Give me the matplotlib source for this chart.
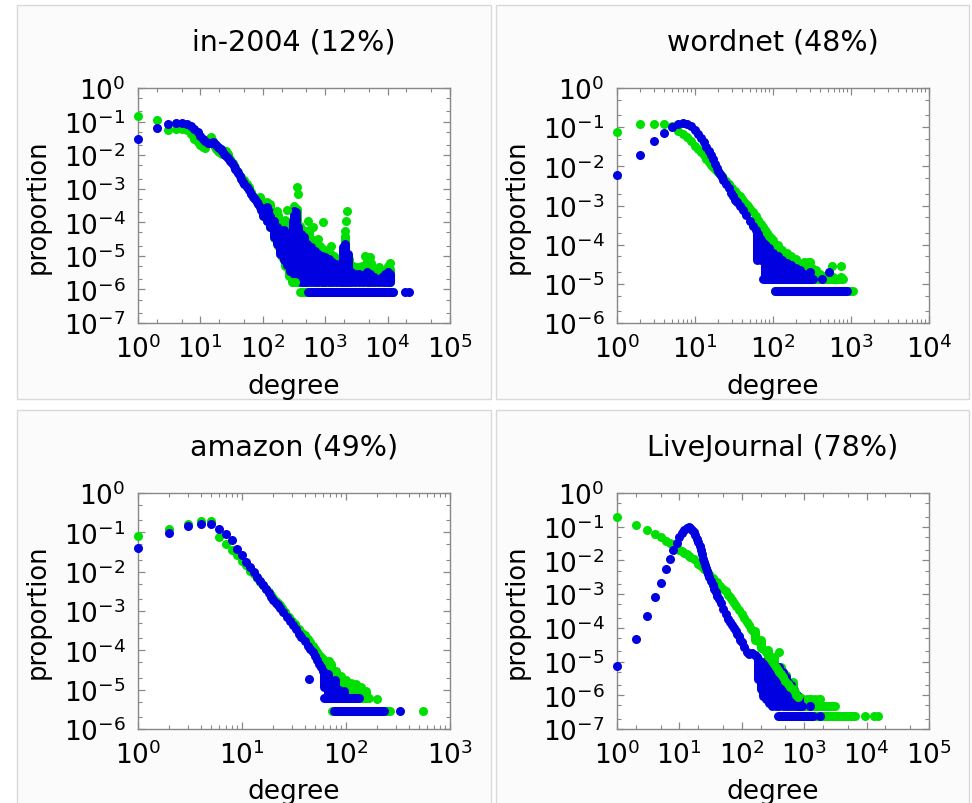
import matplotlib.pyplot as plt
from matplotlib.patches import Rectangle
from matplotlib.ticker import LogLocator, LogFormatterSciNotation, NullFormatter

plt.rcParams['axes.unicode_minus'] = False

GREEN = '#00e000'
BLUE = '#0000e0'
MS = 6.5  # marker diameter in points

titles = ['in-2004 (12%)', 'wordnet (48%)', 'amazon (49%)', 'LiveJournal (78%)']
x_limits = [(1, 1e5), (1, 1e4), (1, 1e3), (1, 1e5)]
y_limits = [(1e-7, 1), (1e-6, 1), (1e-6, 1), (1e-7, 1)]
x_minor = [(2, 5), (2, 3, 4, 5, 6, 7, 8, 9), (2, 3, 4, 5, 6, 7, 8, 9), (2, 5)]

# ---------------- in-2004 ----------------
# (degree, proportion) points
in2004_green = [(1, 0.15), (2, 0.11), (3, 0.058), (4, 0.062), (5, 0.06), (6, 0.055), (7, 0.042),
                (8, 0.031), (9, 0.024), (10, 0.02), (11, 0.017), (12, 0.016), (13, 0.024), (14, 0.033),
                (15, 0.034), (16, 0.026), (17, 0.018), (18, 0.015), (19, 0.0135), (20, 0.012),
                (22, 0.011), (24, 0.013), (26, 0.0135), (28, 0.011), (30, 0.0078), (33, 0.006),
                (36, 0.0045), (40, 0.0032), (45, 0.0023), (50, 0.0018), (55, 0.0014), (60, 0.0011),
                (65, 0.0008), (70, 0.0006), (75, 0.0005), (80, 0.00045), (85, 0.0005), (90, 0.00056),
                (355, 1.1e-3), (370, 7.2e-4), (170, 2.2e-4), (240, 2.3e-4), (530, 1.1e-4), (640, 7e-5),
                (920, 1.0e-4), (780, 3.2e-5), (1250, 2.0e-5), (2250, 2.2e-4), (2150, 1.1e-4),
                (2100, 5.6e-5), (4300, 1.0e-5), (5300, 9e-6), (7400, 4.6e-6), (10800, 6.3e-6),
                (300, 1.65e-6), (330, 1.65e-6)]
in2004_blue = [(1, 0.03), (2, 0.065), (3, 0.085), (4, 0.091), (5, 0.09), (6, 0.085), (7, 0.072),
               (8, 0.06), (9, 0.048), (10, 0.038), (11, 0.03), (12, 0.026), (13, 0.023), (14, 0.0225),
               (15, 0.023), (16, 0.024), (17, 0.022), (18, 0.02), (19, 0.018), (20, 0.016), (21, 0.0148),
               (22, 0.0135), (24, 0.011), (26, 0.0095), (28, 0.0083), (30, 0.0069), (32, 0.0058),
               (34, 0.0048), (36, 0.004), (38, 0.0034), (40, 0.0029), (43, 0.0024), (45, 0.002),
               (48, 0.0016), (50, 0.0014), (55, 0.0011), (60, 0.00089), (65, 0.0007), (70, 0.00056),
               (75, 0.00048), (80, 0.0004), (85, 0.00034), (90, 0.00028), (95, 0.00024),
               (19000, 8.3e-7), (22000, 8.3e-7)]
# dense clouds: (degree, low, high)
in2004_green_band = [(100, 1.6e-4, 4.0e-4), (115, 1.1e-4, 4.0e-4), (130, 7e-5, 3.5e-4), (150, 3.5e-5, 2.0e-4),
                     (175, 2e-5, 1.6e-4), (200, 9e-6, 1.0e-4), (230, 5e-6, 1.2e-4), (260, 2.5e-6, 1.0e-4),
                     (290, 1.65e-6, 8e-5), (320, 1.65e-6, 3e-4), (350, 1.65e-6, 2.5e-4), (390, 1.65e-6, 8e-5),
                     (440, 1.65e-6, 6e-5), (500, 1.65e-6, 5e-5), (560, 1.65e-6, 6e-5), (640, 1.65e-6, 3e-5),
                     (720, 1.65e-6, 2.5e-5), (820, 1.65e-6, 2e-5), (930, 1.65e-6, 1.6e-5),
                     (1050, 1.65e-6, 1.4e-5), (1200, 1.65e-6, 1.2e-5), (1400, 1.65e-6, 1.0e-5),
                     (1600, 1.65e-6, 8e-6), (1850, 1.65e-6, 7e-6), (2100, 1.65e-6, 4e-5),
                     (2400, 1.65e-6, 8e-6), (2800, 1.65e-6, 5e-6), (3300, 1.65e-6, 4.5e-6),
                     (3900, 1.65e-6, 5e-6), (4600, 1.65e-6, 7e-6), (5400, 1.65e-6, 6e-6),
                     (6300, 1.65e-6, 4e-6), (7400, 1.65e-6, 4e-6), (8700, 1.65e-6, 3.5e-6),
                     (10000, 1.65e-6, 5e-6), (11000, 1.65e-6, 4e-6)]
in2004_blue_band = [(100, 1.58e-4, 2.5e-4), (115, 1.13e-4, 2.8e-4), (130, 7.1e-5, 2.0e-4), (150, 3.6e-5, 1.13e-4),
                    (170, 2.28e-5, 7.1e-5), (190, 1.15e-5, 5.7e-5), (215, 7.3e-6, 5.7e-5), (240, 5.2e-6, 4.5e-5),
                    (270, 3.66e-6, 4.5e-5), (300, 3.27e-6, 1.13e-4), (320, 2.9e-6, 2.23e-4), (340, 2.6e-6, 2.0e-4),
                    (370, 2.3e-6, 7.1e-5), (410, 1.65e-6, 4.5e-5), (460, 1.65e-6, 3.6e-5), (520, 1.65e-6, 2.28e-5),
                    (600, 1.65e-6, 1.81e-5), (680, 1.65e-6, 1.44e-5), (780, 1.65e-6, 1.15e-5),
                    (880, 1.65e-6, 1.02e-5), (1000, 1.65e-6, 9.1e-6), (1150, 1.65e-6, 8.1e-6),
                    (1300, 1.65e-6, 6.5e-6), (1500, 1.65e-6, 5.8e-6), (1700, 1.65e-6, 4.6e-6),
                    (1950, 1.65e-6, 1.81e-5), (2100, 1.65e-6, 2.28e-5), (2300, 1.65e-6, 1.15e-5),
                    (2600, 1.65e-6, 3.27e-6), (3000, 1.65e-6, 2.9e-6), (3500, 1.65e-6, 2.9e-6),
                    (4000, 1.65e-6, 2.6e-6), (4600, 1.65e-6, 3.27e-6), (5200, 1.65e-6, 2.9e-6),
                    (6000, 1.65e-6, 2.3e-6), (7000, 1.65e-6, 2.07e-6), (8000, 1.65e-6, 2.3e-6),
                    (9000, 1.65e-6, 2.9e-6), (10000, 1.65e-6, 3.27e-6), (11000, 1.65e-6, 2.9e-6)]
# runs of single-count degrees: (proportion, first degree, last degree)
in2004_green_rows = [(8.3e-7, 400, 12300)]
in2004_blue_rows = [(8.3e-7, 525, 12300)]

# ---------------- wordnet ----------------
wordnet_green = [(1, 0.077), (2, 0.12), (3, 0.12), (4, 0.12), (5, 0.11), (6, 0.082), (7, 0.067), (8, 0.055),
                 (9, 0.044), (10, 0.034), (11, 0.028), (12, 0.023), (13, 0.019), (14, 0.0155), (15, 0.013),
                 (16, 0.011), (17, 0.0097), (18, 0.0086), (19, 0.0078), (20, 0.0071), (21, 0.0064),
                 (22, 0.0057), (23, 0.0051), (25, 0.0042), (27, 0.0035), (30, 0.0028), (33, 0.0023),
                 (35, 0.002), (38, 0.0017), (40, 0.00145), (43, 0.00125), (45, 0.0011), (48, 0.00095),
                 (50, 0.00083), (55, 0.00068), (60, 0.00053), (65, 0.00043), (70, 0.00034), (75, 0.00028),
                 (80, 0.00023), (85, 0.0002), (90, 0.00017), (95, 0.00015),
                 (300, 3.6e-5), (570, 2.8e-5), (750, 2.8e-5), (590, 1.5e-5), (750, 1.5e-5)]
wordnet_blue = [(1, 0.0059), (2, 0.02), (3, 0.044), (4, 0.071), (5, 0.103), (6, 0.117), (7, 0.126), (8, 0.12),
                (9, 0.104), (10, 0.085), (11, 0.067), (12, 0.053), (13, 0.041), (14, 0.032), (15, 0.025),
                (16, 0.019), (17, 0.015), (18, 0.0116), (19, 0.0093), (20, 0.0075), (21, 0.0063), (22, 0.0053),
                (23, 0.0046), (25, 0.0036), (27, 0.0028), (29, 0.0021), (31, 0.0017), (33, 0.0014),
                (35, 0.00122), (38, 0.00098), (41, 0.00078), (45, 0.00056), (50, 0.0004), (55, 0.0003),
                (60, 0.00023), (65, 0.00019), (300, 2.0e-5), (520, 2.0e-5), (420, 1.35e-5)]
wordnet_green_band = [(100, 1.35e-5, 1.3e-4), (115, 1.35e-5, 1.0e-4), (130, 1.35e-5, 7.5e-5), (150, 1.35e-5, 6e-5),
                      (170, 1.35e-5, 5e-5), (195, 1.35e-5, 4.2e-5), (220, 1.35e-5, 3.3e-5), (250, 1.35e-5, 3.6e-5),
                      (280, 1.35e-5, 3.6e-5), (320, 1.35e-5, 2.5e-5), (360, 1.35e-5, 2.2e-5), (400, 1.35e-5, 1.8e-5),
                      (450, 1.35e-5, 1.6e-5)]
wordnet_blue_band = [(62, 4e-5, 2.2e-4), (70, 4e-5, 1.5e-4), (78, 1.35e-5, 1.1e-4), (88, 1.35e-5, 8e-5),
                     (100, 1.35e-5, 6e-5), (115, 1.35e-5, 5e-5), (130, 1.35e-5, 4e-5), (150, 1.35e-5, 3.5e-5),
                     (170, 1.35e-5, 3e-5), (195, 1.35e-5, 2.5e-5), (220, 1.35e-5, 2.2e-5), (250, 1.35e-5, 1.8e-5),
                     (280, 1.35e-5, 1.6e-5)]
wordnet_green_rows = [(6.6e-6, 107, 1060), (1.35e-5, 92, 800)]
wordnet_blue_rows = [(6.6e-6, 107, 890), (1.35e-5, 75, 330)]

# ---------------- amazon ----------------
amazon_green = [(1, 0.079), (2, 0.119), (3, 0.16), (4, 0.19), (5, 0.19), (6, 0.076), (7, 0.051), (8, 0.036),
                (9, 0.026), (10, 0.019), (11, 0.0145), (12, 0.0107), (13, 0.0087), (14, 0.007), (15, 0.0056),
                (16, 0.0045), (17, 0.0037), (18, 0.003), (19, 0.0025), (20, 0.0021), (21, 0.0018), (22, 0.0016),
                (23, 0.0014), (24, 0.0012), (25, 0.00105), (26, 0.00093), (28, 0.00072), (30, 0.00057),
                (32, 0.00047), (35, 0.00035), (38, 0.00028), (40, 0.00024), (43, 0.00019), (45, 0.000162),
                (48, 0.00013), (50, 0.00011), (53, 9e-5), (55, 7.8e-5), (58, 6.6e-5), (60, 5.9e-5),
                (68, 5.5e-5), (200, 5.8e-6), (550, 2.9e-6)]
amazon_blue = [(1, 0.041), (2, 0.097), (3, 0.144), (4, 0.165), (5, 0.16), (6, 0.123), (7, 0.092), (8, 0.062),
               (9, 0.038), (10, 0.026), (11, 0.0175), (12, 0.0131), (13, 0.0097), (14, 0.0073), (15, 0.0058),
               (16, 0.0045), (17, 0.0036), (18, 0.0028), (19, 0.0023), (20, 0.0019), (21, 0.0016), (22, 0.00138),
               (23, 0.0012), (25, 0.00093), (27, 0.00072), (29, 0.00055), (31, 0.00043), (33, 0.00034),
               (35, 0.00026), (37, 0.00022), (40, 0.000177), (43, 0.00013), (45, 0.00011), (48, 9e-5),
               (50, 7.3e-5), (53, 5.8e-5), (55, 4.5e-5), (58, 3.7e-5), (60, 3e-5), (63, 2.4e-5),
               (44, 1.9e-5), (330, 2.9e-6)]
amazon_green_band = [(65, 2.5e-5, 5e-5), (72, 1.2e-5, 4.5e-5), (80, 6e-6, 3e-5), (90, 6e-6, 2.2e-5),
                     (100, 6e-6, 1.8e-5), (112, 6e-6, 1.5e-5), (125, 6e-6, 1.4e-5), (140, 6e-6, 1.2e-5),
                     (155, 6e-6, 9e-6)]
amazon_blue_band = [(62, 1.2e-5, 2.5e-5), (67, 6e-6, 2.5e-5), (72, 6e-6, 1.6e-5), (78, 6e-6, 1.8e-5),
                    (85, 6e-6, 1e-5), (95, 6e-6, 9e-6)]
amazon_green_rows = [(2.9e-6, 74, 265), (6e-6, 140, 165)]
amazon_blue_rows = [(2.9e-6, 76, 230), (6e-6, 61, 133)]

# ---------------- LiveJournal ----------------
lj_green = [(1, 0.2), (2, 0.11), (3, 0.078), (4, 0.062), (5, 0.049), (6, 0.039), (7, 0.033), (8, 0.028),
            (9, 0.024), (10, 0.021), (11, 0.019), (12, 0.017), (13, 0.0155), (14, 0.014), (15, 0.0126),
            (17, 0.011), (20, 0.0079), (22, 0.0068), (25, 0.0056), (28, 0.0047), (30, 0.004), (35, 0.003),
            (40, 0.0023), (45, 0.0018), (50, 0.00145), (55, 0.0012), (60, 0.00095), (65, 0.0008),
            (70, 0.00065), (75, 0.00055), (80, 0.00046), (90, 0.00035), (100, 0.00026), (110, 0.0002),
            (120, 0.000148), (130, 0.00012), (140, 9.5e-5), (150, 7.8e-5), (165, 5.8e-5), (180, 4.2e-5),
            (200, 3.2e-5), (220, 2.4e-5), (240, 1.9e-5), (260, 1.5e-5), (280, 1.25e-5), (300, 1.07e-5),
            (325, 8.5e-6), (350, 6.8e-6), (375, 5.7e-6), (400, 4.8e-6), (425, 4.2e-6), (450, 3.6e-6),
            (500, 2.7e-6), (550, 2.2e-6), (600, 1.8e-6), (650, 1.5e-6), (700, 1.23e-6), (750, 1.05e-6),
            (800, 8.7e-7), (395, 1.9e-5), (1260, 7.8e-7), (1800, 7.8e-7),
            (9500, 2.5e-7), (13000, 2.5e-7), (15000, 2.5e-7)]
lj_blue = [(1, 7.3e-6), (2, 4.7e-5), (3, 2.2e-4), (4, 8.1e-4), (5, 0.0021), (6, 0.0054), (7, 0.0112),
           (8, 0.02), (9, 0.033), (10, 0.049), (11, 0.065), (12, 0.078), (13, 0.091), (14, 0.098),
           (15, 0.093), (16, 0.081), (17, 0.069), (18, 0.055), (19, 0.044), (20, 0.035), (21, 0.027),
           (22, 0.02), (23, 0.015), (24, 0.0112), (25, 0.0089), (26, 0.0071), (27, 0.0058), (28, 0.0048),
           (29, 0.004), (30, 0.0033), (32, 0.0025), (34, 0.0019), (36, 0.00143), (38, 0.00115), (40, 0.00091),
           (43, 0.0007), (46, 0.00053), (50, 0.00037), (55, 0.00026), (60, 0.000186), (65, 0.00015),
           (70, 0.000118), (75, 0.0001), (80, 8.3e-5), (85, 6.8e-5), (90, 5.6e-5), (95, 4.5e-5),
           (100, 3.7e-5), (110, 2.7e-5), (120, 1.9e-5), (130, 1.7e-5), (145, 1.75e-5), (160, 1.6e-5),
           (175, 1.35e-5), (1260, 4.9e-7), (1800, 2.5e-7)]
lj_green_band = [(160, 4.5e-5, 8e-5), (200, 2.6e-5, 4.5e-5), (260, 1.3e-5, 2.2e-5), (330, 7e-6, 1.4e-5),
                 (420, 3.8e-6, 7e-6), (520, 2.2e-6, 4e-6), (650, 1.3e-6, 2.5e-6),
                 (850, 4.9e-7, 9e-7), (950, 4.9e-7, 7.8e-7), (1100, 4.9e-7, 7.8e-7), (1300, 4.9e-7, 7.8e-7),
                 (1500, 4.9e-7, 7.8e-7), (1750, 4.9e-7, 7.8e-7)]
lj_blue_band = [(180, 3e-6, 1.2e-5), (200, 1.5e-6, 1.0e-5), (220, 9.8e-7, 9.5e-6), (245, 7.8e-7, 8e-6),
                (275, 6e-7, 6.8e-6), (310, 4.9e-7, 6.8e-6), (350, 4.9e-7, 6.8e-6), (400, 4.9e-7, 7e-6),
                (450, 4.9e-7, 5e-6), (505, 4.9e-7, 3.4e-6), (560, 4.9e-7, 2.5e-6), (620, 4.9e-7, 2.0e-6),
                (690, 4.9e-7, 1.4e-6), (760, 4.9e-7, 1.0e-6), (830, 4.9e-7, 7.8e-7)]
lj_green_rows = [(2.5e-7, 870, 6600), (4.9e-7, 820, 3170)]
lj_blue_rows = [(2.5e-7, 385, 1400), (4.9e-7, 830, 930)]

panels = [
    (in2004_green, in2004_green_band, in2004_green_rows, in2004_blue, in2004_blue_band, in2004_blue_rows),
    (wordnet_green, wordnet_green_band, wordnet_green_rows, wordnet_blue, wordnet_blue_band, wordnet_blue_rows),
    (amazon_green, amazon_green_band, amazon_green_rows, amazon_blue, amazon_blue_band, amazon_blue_rows),
    (lj_green, lj_green_band, lj_green_rows, lj_blue, lj_blue_band, lj_blue_rows),
]

W, H = 972, 804
frames_px = [(17, 6, 491, 400), (496, 6, 969, 400), (17, 411, 491, 812), (496, 411, 969, 812)]
axes_px = [(138, 89, 450, 324), (617, 89, 929, 324), (138, 494, 450, 730), (617, 494, 929, 730)]
title_y = [43, 43, 448, 448]
xlabel_y = [387, 387, 792, 792]


def draw_series(ax, pts, band, rows, color):
    for d, lo, hi in band:
        ax.vlines(d, lo, hi, colors=color, lw=MS, capstyle='round', zorder=3)
    for p, d0, d1 in rows:
        ax.hlines(p, d0, d1, colors=color, lw=MS, capstyle='round', zorder=3)
    xs = [d for d, p in pts]
    ys = [p for d, p in pts]
    ax.plot(xs, ys, 'o', color=color, ms=MS, mec='none', ls='none', clip_on=False, zorder=4)


fig = plt.figure(figsize=(W / 100, H / 100), dpi=100)
fig.patch.set_facecolor('white')

for i in range(4):
    x0, y0, x1, y1 = frames_px[i]
    fig.add_artist(Rectangle((x0 / W, 1 - y1 / H), (x1 - x0) / W, (y1 - y0) / H,
                             transform=fig.transFigure, facecolor='#fbfbfb',
                             edgecolor='#d9d9d9', lw=1.0, zorder=-10))

    l, t, r, b = axes_px[i]
    ax = fig.add_axes([l / W, 1 - b / H, (r - l) / W, (b - t) / H])
    ax.set_zorder(1)
    ax.set_facecolor('white')
    ax.set_xscale('log')
    ax.set_yscale('log')
    ax.set_xlim(*x_limits[i])
    ax.set_ylim(*y_limits[i])

    g_pts, g_band, g_rows, b_pts, b_band, b_rows = panels[i]
    draw_series(ax, g_pts, g_band, g_rows, GREEN)
    draw_series(ax, b_pts, b_band, b_rows, BLUE)

    ax.xaxis.set_major_locator(LogLocator(base=10, numticks=20))
    ax.yaxis.set_major_locator(LogLocator(base=10, numticks=20))
    ax.xaxis.set_minor_locator(LogLocator(base=10, subs=x_minor[i], numticks=20))
    ax.yaxis.set_minor_locator(LogLocator(base=10, subs=(2, 5), numticks=20))
    ax.xaxis.set_major_formatter(LogFormatterSciNotation())
    ax.yaxis.set_major_formatter(LogFormatterSciNotation())
    ax.xaxis.set_minor_formatter(NullFormatter())
    ax.yaxis.set_minor_formatter(NullFormatter())
    ax.tick_params(which='both', direction='in', top=True, right=True, color='#888888')
    ax.tick_params(which='major', length=5, width=0.9, labelsize=19, labelcolor='black')
    ax.tick_params(which='minor', length=2.8, width=0.8)
    ax.tick_params(axis='y', which='major', pad=9)
    ax.tick_params(axis='x', which='major', pad=8.5)
    for s in ax.spines.values():
        s.set_color('#888888')
        s.set_linewidth(1.0)

    cx = (l + r) / 2 / W
    fig.text(cx, 1 - title_y[i] / H, titles[i], ha='center', va='center', fontsize=20.5, zorder=2)
    fig.text(cx, 1 - xlabel_y[i] / H, 'degree', ha='center', va='center', fontsize=19, zorder=2)
    fig.text((l - 100) / W, 1 - (t + b) / 2 / H, 'proportion', ha='center', va='center',
             rotation=90, fontsize=18.5, zorder=2)

fig.savefig('out.png', dpi=100)
